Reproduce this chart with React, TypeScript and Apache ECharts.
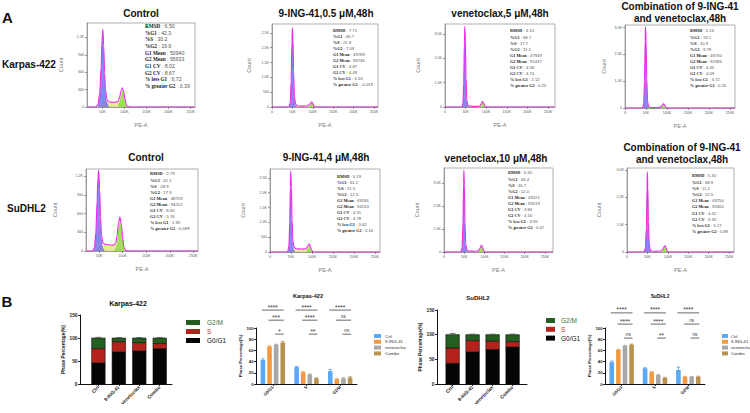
import React, { useEffect, useRef } from 'react';
import * as echarts from 'echarts';

type Pt = [number, number];

// ---------- Panel A: PE-A DNA content histograms ----------
const histTitles: string[][] = [
  ['Control'],
  ['9-ING-41,0.5 μM,48h'],
  ['venetoclax,5 μM,48h'],
  ['Combination of 9-ING-41', 'and venetoclax,48h'],
  ['Control'],
  ['9-ING-41,4 μM,48h'],
  ['venetoclax,10 μM,48h'],
  ['Combination of 9-ING-41', 'and venetoclax,48h'],
];
const rowLabels = ['Karpas-422', 'SuDHL2'];

const statNames = ['RMSD', '%G1', '%S', '%G2', 'G1 Mean', 'G2 Mean', 'G1 CV', 'G2 CV', '% less G1', '% greater G2'];
const statsKarpasCtrl = ['6.50', '42.3', '30.2', '19.9', '50940', '95633', '8.02', '8.67', '6.72', '0.39'];
const statsKarpasIng = ['7.71', '65.7', '21.9', '7.09', '49789', '96746', '4.87', '4.49', '5.53', '-0.019'];
const statsKarpasVen = ['4.15', '68.7', '17.7', '11.1', '47949', '91437', '4.59', '4.74', '2.12', '0.25'];
const statsKarpasCombo = ['5.16', '74.1', '10.9', '9.79', '48730', '92385', '4.45', '4.09', '3.72', '0.26'];
const statsSudCtrl = ['2.79', '41.1', '28.9', '27.9', '48759', '94212', '8.65', '5.76', '1.95', '0.089'];
const statsSudIng = ['5.19', '61.2', '21.5', '12.3', '49246', '94153', '4.31', '4.78', '3.62', '0.16'];
const statsSudVen = ['5.30', '66.4', '16.7', '12.0', '49221', '93219', '3.84', '4.16', '3.55', '0.47'];
const statsSudCombo = ['5.30', '68.9', '11.2', '12.5', '49754', '92660', '4.42', '5.33', '5.17', '0.89'];

// PE-A in thousands, counts
const kCtrlTotal: Pt[] = [[15, 0], [35, 0], [40, 40], [44, 250], [47, 700], [49, 1150], [51, 1340], [53, 1050], [55, 600], [57, 300], [60, 130], [64, 90], [70, 80], [80, 82], [86, 100], [89, 170], [92, 280], [95, 330], [98, 270], [101, 140], [104, 40], [108, 5], [115, 0], [260, 0]];
const kCtrlG1: Pt[] = [[40, 0], [44, 220], [47, 660], [49, 1100], [51, 1290], [53, 1000], [55, 560], [57, 260], [60, 90], [64, 15], [67, 0]];
const kCtrlS: Pt[] = [[48, 0], [52, 60], [58, 80], [70, 78], [80, 80], [88, 80], [94, 70], [100, 40], [104, 0]];
const kCtrlG2: Pt[] = [[85, 0], [89, 100], [92, 220], [95, 300], [98, 240], [101, 110], [104, 20], [107, 0]];

const kIngTotal: Pt[] = [[0, 0], [42, 0], [45, 150], [47, 900], [49, 2200], [50, 2670], [51.5, 2300], [53, 1200], [55, 350], [58, 90], [62, 40], [75, 30], [88, 40], [93, 100], [96, 160], [98, 170], [100, 120], [103, 30], [107, 0], [260, 0]];
const kIngG1: Pt[] = [[43, 0], [45, 130], [47, 850], [49, 2100], [50, 2550], [51.5, 2200], [53, 1100], [55, 300], [58, 40], [61, 0]];
const kIngS: Pt[] = [[50, 0], [54, 25], [60, 30], [75, 28], [90, 30], [98, 20], [103, 0]];
const kIngG2: Pt[] = [[90, 0], [93, 60], [96, 140], [98, 155], [100, 110], [103, 25], [106, 0]];

const kVenTotal: Pt[] = [[0, 0], [41.5, 0], [43.5, 150], [45.5, 1000], [47, 2600], [48, 3300], [49.5, 2700], [51, 1200], [53, 300], [55.5, 70], [62, 30], [75, 25], [84, 40], [88, 130], [90.5, 230], [92, 240], [94, 160], [97, 40], [101, 0], [265, 0]];
const kVenG1: Pt[] = [[41.5, 0], [43.5, 130], [45.5, 950], [47, 2500], [48, 3200], [49.5, 2600], [51, 1100], [53, 250], [55.5, 40], [58, 0]];
const kVenS: Pt[] = [[48.5, 0], [52.5, 25], [60, 28], [75, 25], [86, 28], [93, 20], [98, 0]];
const kVenG2: Pt[] = [[84, 0], [88, 90], [90.5, 200], [92, 220], [94, 150], [97, 35], [100, 0]];

const kComboTotal: Pt[] = [[0, 0], [42, 0], [44.5, 150], [46.5, 1000], [48, 2500], [48.8, 3030], [50.2, 2500], [51.8, 1100], [53.8, 250], [56.5, 50], [63, 15], [75, 12], [84, 25], [88, 90], [90.5, 150], [92.5, 160], [94.5, 110], [97.5, 30], [101, 0], [262, 0]];
const kComboG1: Pt[] = [[42.5, 0], [44.5, 130], [46.5, 950], [48, 2400], [48.8, 2920], [50.2, 2400], [51.8, 1000], [53.8, 200], [56.5, 20], [58.5, 0]];
const kComboS: Pt[] = [[49.5, 0], [53.5, 12], [62, 14], [75, 12], [86, 14], [93, 10], [98, 0]];
const kComboG2: Pt[] = [[85, 0], [88, 70], [90.5, 135], [92.5, 145], [94.5, 100], [97.5, 25], [100.5, 0]];

const sCtrlTotal: Pt[] = [[22, 0], [36, 0], [40, 60], [43, 300], [45.5, 800], [47.5, 1200], [49, 1300], [51, 1000], [53, 550], [55, 250], [58, 130], [62, 110], [70, 100], [80, 95], [85, 120], [88, 250], [91, 450], [94, 550], [97, 430], [100, 200], [103, 50], [107, 5], [115, 0], [260, 0]];
const sCtrlG1: Pt[] = [[38, 0], [40, 50], [43, 280], [45.5, 760], [47.5, 1150], [49, 1240], [51, 940], [53, 500], [55, 200], [58, 50], [62, 0]];
const sCtrlS: Pt[] = [[46, 0], [50, 70], [56, 95], [65, 100], [75, 95], [85, 100], [92, 80], [98, 40], [103, 0]];
const sCtrlG2: Pt[] = [[83, 0], [86, 60], [88, 180], [91, 390], [94, 500], [97, 400], [100, 180], [103, 40], [106, 0]];

const sIngTotal: Pt[] = [[0, 0], [42, 0], [45, 200], [47, 1000], [48.5, 2200], [49.5, 2740], [51, 2200], [52.5, 1100], [54.5, 400], [57, 160], [62, 110], [75, 100], [86, 110], [89, 170], [92, 250], [94, 270], [96, 200], [99, 60], [103, 0], [262, 0]];
const sIngG1: Pt[] = [[43, 0], [45, 180], [47, 950], [48.5, 2100], [49.5, 2620], [51, 2100], [52.5, 1000], [54.5, 300], [57, 60], [60, 0]];
const sIngS: Pt[] = [[49, 0], [53, 70], [60, 95], [75, 95], [88, 95], [95, 60], [100, 0]];
const sIngG2: Pt[] = [[86, 0], [89, 100], [92, 200], [94, 230], [96, 170], [99, 50], [102, 0]];

const sVenTotal: Pt[] = [[0, 0], [42, 0], [45, 200], [47, 1300], [48.5, 3000], [49.3, 3560], [50.5, 2900], [52, 1300], [54, 350], [57, 80], [62, 40], [75, 35], [85, 50], [89, 160], [91.5, 270], [93.5, 290], [95.5, 200], [98, 60], [102, 0], [270, 0]];
const sVenG1: Pt[] = [[43, 0], [45, 180], [47, 1250], [48.5, 2900], [49.3, 3450], [50.5, 2800], [52, 1200], [54, 280], [57, 30], [59, 0]];
const sVenS: Pt[] = [[50, 0], [54, 30], [62, 35], [75, 33], [86, 36], [94, 25], [99, 0]];
const sVenG2: Pt[] = [[85, 0], [88.5, 100], [91.5, 230], [93.5, 260], [95.5, 180], [98, 45], [101, 0]];

const sComboTotal: Pt[] = [[0, 0], [42, 0], [45, 150], [47.5, 900], [49, 2300], [49.8, 2930], [51, 2400], [52.5, 1100], [54.5, 300], [57, 60], [62, 30], [75, 30], [85, 45], [89, 140], [91.5, 210], [93.5, 230], [95.5, 160], [98, 45], [102, 0], [262, 0]];
const sComboG1: Pt[] = [[43, 0], [45, 130], [47.5, 850], [49, 2200], [49.8, 2820], [51, 2300], [52.5, 1000], [54.5, 240], [57, 25], [59, 0]];
const sComboS: Pt[] = [[50, 0], [54, 25], [62, 30], [75, 28], [86, 32], [94, 22], [99, 0]];
const sComboG2: Pt[] = [[86, 0], [89, 100], [91.5, 180], [93.5, 205], [95.5, 140], [98, 35], [101, 0]];

const histData = [
  { total: kCtrlTotal, g1: kCtrlG1, s: kCtrlS, g2: kCtrlG2, stats: statsKarpasCtrl },
  { total: kIngTotal, g1: kIngG1, s: kIngS, g2: kIngG2, stats: statsKarpasIng },
  { total: kVenTotal, g1: kVenG1, s: kVenS, g2: kVenG2, stats: statsKarpasVen },
  { total: kComboTotal, g1: kComboG1, s: kComboS, g2: kComboG2, stats: statsKarpasCombo },
  { total: sCtrlTotal, g1: sCtrlG1, s: sCtrlS, g2: sCtrlG2, stats: statsSudCtrl },
  { total: sIngTotal, g1: sIngG1, s: sIngS, g2: sIngG2, stats: statsSudIng },
  { total: sVenTotal, g1: sVenG1, s: sVenS, g2: sVenG2, stats: statsSudVen },
  { total: sComboTotal, g1: sComboG1, s: sComboS, g2: sComboG2, stats: statsSudCombo },
];

// ---------- Panel B: phase percentages ----------
const conditions = ['Ctrl', '9-ING-41', 'venetoclax', 'Combo'];
const phases = ['G0/G1', 'S', 'G2/M'];

// stacked bars (per condition)
const karpasStackG1 = [46, 70, 72, 77];
const karpasStackS = [31, 22, 18, 11];
const karpasStackG2M = [23, 8, 10, 12];
const karpasStackErr = [1.5, 1, 1, 1.2];
const sudStackG1 = [42, 65, 70, 75];
const sudStackS = [31, 23, 17, 11];
const sudStackG2M = [27, 12, 13, 14];
const sudStackErr = [2.5, 1.2, 1, 1.2];

// grouped bars (per phase)
const karpasCtrl = [43, 30, 23];
const karpasIng = [67, 21, 8.4];
const karpasVen = [70, 17, 10];
const karpasCombo = [74, 10, 11.4];
const karpasErr = [[2, 1.2, 3], [1.2, 1, 1.2], [1, 1, 1.2], [2, 1, 1.5]];
const karpasSig = [['****', '***', '*'], ['****', '****', '**'], ['****', 'ns', 'ns']];

const sudCtrl = [39, 28, 25];
const sudIng = [61, 21, 12.6];
const sudVen = [68, 16, 12.6];
const sudCombo = [70, 11, 13];
const sudErr = [[2, 1, 5], [1, 1, 1], [1, 1, 1], [1.2, 1, 1]];
const sudSig = [['****', '****', 'ns'], ['****', '****', '**'], ['****', 'ns', 'ns']];

// ---------- styling & layout ----------
const FONT = 'Liberation Sans';
const C_TOTAL = '#ea2aea';
const C_G1 = 'rgba(120,112,235,0.85)';
const C_S = 'rgba(226,232,140,0.9)';
const C_G2 = 'rgba(150,222,70,0.9)';
const STACK_COLORS = { g1: '#050505', s: '#b3231c', g2m: '#255e21' };
const GROUP_COLORS = ['#5aa8f6', '#f39a40', '#a8a8a8', '#b8924f'];
const GROUP_ERR_COLORS = ['#3d86d6', '#d97d22', '#8a8a8a', '#967236'];

const HIST_BOX = [
  { left: 87, top: 23, width: 108, height: 84, xMin: 15, xMax: 260, yMax: 1450, yStep: 300, countGap: 23, titleX: 141, titleY: [13.5], statX: 145, statY: 26, statLH: 6.65, statFont: 5.2 },
  { left: 272, top: 24, width: 106, height: 83, xMin: 0, xMax: 260, yMax: 2800, yStep: 500, countGap: 20, titleX: 326, titleY: [13.5], statX: 333, statY: 30, statLH: 6, statFont: 4.2 },
  { left: 445, top: 24, width: 110, height: 83, xMin: 0, xMax: 267, yMax: 3400, yStep: 1000, countGap: 24, titleX: 500, titleY: [13.5], statX: 510, statY: 31, statLH: 6.1, statFont: 4.2 },
  { left: 625, top: 25, width: 110, height: 83, xMin: 0, xMax: 262, yMax: 3100, yStep: 1000, countGap: 18, titleX: 680, titleY: [6, 18], statX: 690, statY: 31, statLH: 6.1, statFont: 4.2 },
  { left: 86, top: 169, width: 112, height: 82, xMin: 22, xMax: 260, yMax: 1320, yStep: 300, countGap: 28, titleX: 146, titleY: [157], statX: 150, statY: 174, statLH: 6.1, statFont: 4.3 },
  { left: 270, top: 169, width: 110, height: 83, xMin: 0, xMax: 262, yMax: 2800, yStep: 500, countGap: 24, titleX: 326, titleY: [157], statX: 337, statY: 176, statLH: 6, statFont: 4.2 },
  { left: 444, top: 168, width: 109, height: 84, xMin: 0, xMax: 270, yMax: 3650, yStep: 1000, countGap: 24, titleX: 496, titleY: [158], statX: 508, statY: 173, statLH: 6.1, statFont: 4.2 },
  { left: 627, top: 168, width: 107, height: 84, xMin: 0, xMax: 262, yMax: 3070, yStep: 1000, countGap: 25, titleX: 682, titleY: [147, 159], statX: 692, statY: 176, statLH: 6.2, statFont: 4.2 },
];

const BAR_W = 4.6;
const BAR_GAP = 2;
const STACK_BAR_W = 13.5;
const SIG_LEVELS_KARPAS = [132, 114, 89];
const SIG_LEVELS_SUD = [127, 107, 82];

const groupOffset = (k: number) => (k - 1.5) * (BAR_W + BAR_GAP);

function countFmt(v: number) {
  if (v === 0) return '0';
  return v >= 1000 ? (v / 1000).toFixed(1) + 'K' : String(v);
}

function buildOption() {
  const grid: any[] = [];
  const xAxis: any[] = [];
  const yAxis: any[] = [];
  const series: any[] = [];
  const graphic: any[] = [];
  const legend: any[] = [];

  const txt = (x: number, y: number, text: string, size: number, extra: any = {}) => ({
    type: 'text',
    x,
    y,
    silent: true,
    style: {
      text,
      fontSize: size,
      fontFamily: FONT,
      fill: '#111',
      align: 'center',
      verticalAlign: 'middle',
      textAlign: 'center',
      textVerticalAlign: 'middle',
      ...extra,
    },
  });

  graphic.push(txt(7.5, 17.5, 'A', 15, { fontWeight: 'bold' }));
  graphic.push(txt(7, 301, 'B', 15, { fontWeight: 'bold' }));
  graphic.push(txt(2, 64, rowLabels[0], 10, { fontWeight: 'bold', align: 'left', textAlign: 'left' }));
  graphic.push(txt(7, 208.5, rowLabels[1], 10, { fontWeight: 'bold', align: 'left', textAlign: 'left' }));

  // ----- histograms -----
  histData.forEach((h, i) => {
    const b = HIST_BOX[i];
    const xTicks = b.xMin === 0 ? [0, 50, 100, 150, 200, 250] : [50, 100, 150, 200, 250];
    grid.push({
      left: b.left, top: b.top, width: b.width, height: b.height,
      show: true, borderColor: '#9c9c9c', borderWidth: 0.8, containLabel: false, outerBoundsMode: 'none',
    });
    xAxis.push({
      type: 'value', gridIndex: i, min: b.xMin, max: b.xMax,
      name: 'PE-A', nameLocation: 'middle', nameGap: 15,
      nameTextStyle: { fontSize: 5.5, color: '#7a7a7a', fontFamily: FONT },
      axisLine: { show: true, onZero: false, lineStyle: { color: '#8a8a8a', width: 0.8 } },
      axisTick: { show: true, customValues: xTicks, length: 2, lineStyle: { color: '#555', width: 0.6 } },
      axisLabel: { customValues: xTicks, fontSize: 3.6, color: '#555', margin: 3, fontFamily: FONT, formatter: (v: number) => (v === 0 ? '0' : v + 'K') },
      splitLine: { show: false },
    });
    yAxis.push({
      type: 'value', gridIndex: i, min: 0, max: b.yMax, interval: b.yStep,
      name: 'Count', nameLocation: 'middle', nameGap: b.countGap,
      nameTextStyle: { fontSize: 5.5, color: '#7a7a7a', fontFamily: FONT },
      axisLine: { show: true, onZero: false, lineStyle: { color: '#8a8a8a', width: 0.8 } },
      axisTick: { show: true, length: 2, lineStyle: { color: '#555', width: 0.6 } },
      axisLabel: { fontSize: 3.6, color: '#555', margin: 3, showMaxLabel: false, fontFamily: FONT, formatter: countFmt },
      splitLine: { show: false },
    });
    const area = (data: Pt[], color: string) => ({
      type: 'line', xAxisIndex: i, yAxisIndex: i, data, symbol: 'none', smooth: 0.25, smoothMonotone: 'x',
      lineStyle: { width: 0 }, areaStyle: { color, opacity: 1 }, silent: true, z: 2,
    });
    series.push(area(h.s, C_S));
    series.push(area(h.g2, C_G2));
    series.push(area(h.g1, C_G1));
    series.push({
      type: 'line', xAxisIndex: i, yAxisIndex: i, data: h.total, symbol: 'none', smooth: 0.25, smoothMonotone: 'x',
      lineStyle: { width: 1.1, color: C_TOTAL }, silent: true, z: 3,
    });

    // titles
    histTitles[i].forEach((t, k) => graphic.push(txt(b.titleX, b.titleY[k], t, 10, { fontWeight: 'bold' })));

    // ModFit statistics block
    const lines = statNames.map((n, k) => `{l|${n}}{v| : ${h.stats[k]}}`).join('\n');
    graphic.push({
      type: 'text', x: b.statX, y: b.statY - b.statLH / 2, silent: true,
      style: {
        text: lines, align: 'left', verticalAlign: 'top', textAlign: 'left', textVerticalAlign: 'top',
        rich: {
          l: { fontFamily: 'Liberation Serif', fontWeight: 'bold', fontSize: b.statFont, lineHeight: b.statLH, fill: '#1a1a1a', color: '#1a1a1a' },
          v: { fontFamily: FONT, fontSize: b.statFont, lineHeight: b.statLH, fill: '#555', color: '#555' },
        },
      },
    });
  });

  // ----- bar charts -----
  const barAxisLabel = { fontSize: 4.8, color: '#1a1a1a', fontWeight: 'bold', fontFamily: FONT, margin: 2.5 };
  const axisLineBlack = { show: true, onZero: false, lineStyle: { color: '#111', width: 1 } };
  const tickBlack = { show: true, length: 2, lineStyle: { color: '#111', width: 0.9 } };

  const stacked = (gi: number, box: any, range: number[], yNameGap: number, g1: number[], s: number[], g2m: number[], err: number[]) => {
    grid.push({ ...box, containLabel: false, outerBoundsMode: 'none' });
    xAxis.push({
      type: 'value', gridIndex: gi, min: range[0], max: range[1],
      axisLine: axisLineBlack,
      axisTick: { ...tickBlack, customValues: [0, 1, 2, 3] },
      axisLabel: { ...barAxisLabel, customValues: [0, 1, 2, 3], rotate: 45, formatter: (v: number) => conditions[Math.round(v)] },
      splitLine: { show: false },
    });
    yAxis.push({
      type: 'value', gridIndex: gi, min: 0, max: 150, interval: 50,
      name: 'Phase Percentage(%)', nameLocation: 'middle', nameGap: yNameGap,
      nameTextStyle: { fontSize: 4.8, fontWeight: 'bold', color: '#1a1a1a', fontFamily: FONT },
      axisLine: axisLineBlack, axisTick: tickBlack, axisLabel: barAxisLabel, splitLine: { show: false },
    });
    // segments stacked on top of each other: [condition, bottom, top]
    const segs = (vals: number[], below: number[]) => vals.map((v, k) => [k, below[k], below[k] + v]);
    const zero = g1.map(() => 0);
    const sBase = g1;
    const g2Base = g1.map((v, k) => v + s[k]);
    const seg = (name: string, data: number[][], color: string) => ({
      type: 'custom', name, xAxisIndex: gi, yAxisIndex: gi, silent: true, z: 3,
      itemStyle: { color },
      data, encode: { x: 0, y: [1, 2] },
      renderItem: (_p: any, api: any) => {
        const lo = api.coord([api.value(0), api.value(1)]);
        const hi = api.coord([api.value(0), api.value(2)]);
        return {
          type: 'rect',
          shape: { x: lo[0] - STACK_BAR_W / 2, y: hi[1], width: STACK_BAR_W, height: lo[1] - hi[1] },
          style: { fill: color, stroke: '#111', lineWidth: 0.6 },
        };
      },
    });
    series.push(seg('G0/G1', segs(g1, zero), STACK_COLORS.g1));
    series.push(seg('S', segs(s, sBase), STACK_COLORS.s));
    series.push(seg('G2/M', segs(g2m, g2Base), STACK_COLORS.g2m));
    // error caps on top of each stack
    const tops = g1.map((v, k) => v + s[k] + g2m[k]);
    series.push({
      type: 'custom', xAxisIndex: gi, yAxisIndex: gi, silent: true, z: 5,
      data: tops.map((t, k) => [k, t, t + err[k]]),
      encode: { x: 0, y: [1, 2] },
      renderItem: (_p: any, api: any) => {
        const a = api.coord([api.value(0), api.value(1)]);
        const t = api.coord([api.value(0), api.value(2)]);
        const st = { stroke: '#555', lineWidth: 0.8 };
        return {
          type: 'group', children: [
            { type: 'line', shape: { x1: a[0], y1: a[1], x2: t[0], y2: t[1] }, style: st },
            { type: 'line', shape: { x1: t[0] - 3, y1: t[1], x2: t[0] + 3, y2: t[1] }, style: st },
          ],
        };
      },
    });
  };

  const grouped = (gi: number, box: any, yNameGap: number, vals: number[][], errs: number[][], sig: string[][], levels: number[]) => {
    grid.push({ ...box, containLabel: false, outerBoundsMode: 'none' });
    xAxis.push({
      type: 'category', gridIndex: gi, data: phases,
      axisLine: axisLineBlack,
      axisTick: { ...tickBlack, alignWithLabel: true },
      axisLabel: { ...barAxisLabel, fontSize: 4.2, rotate: 45, interval: 0 },
    });
    yAxis.push({
      type: 'value', gridIndex: gi, min: 0, max: 100, interval: 20,
      name: 'Phase Percentage(%)', nameLocation: 'middle', nameGap: yNameGap,
      nameTextStyle: { fontSize: 4.2, fontWeight: 'bold', color: '#1a1a1a', fontFamily: FONT },
      axisLine: axisLineBlack, axisTick: tickBlack, axisLabel: { ...barAxisLabel, fontSize: 4.2 }, splitLine: { show: false },
    });
    vals.forEach((v, k) => {
      series.push({
        type: 'bar', name: conditions[k], xAxisIndex: gi, yAxisIndex: gi, data: v,
        barWidth: BAR_W, barGap: `${(BAR_GAP / BAR_W) * 100}%`,
        itemStyle: { color: GROUP_COLORS[k] }, silent: true,
      });
    });
    // error bars
    const errItems: any[] = [];
    vals.forEach((v, k) => v.forEach((val, c) => errItems.push([c, val, val + errs[k][c], k])));
    series.push({
      type: 'custom', xAxisIndex: gi, yAxisIndex: gi, silent: true, z: 5,
      data: errItems, encode: { x: 0, y: [1, 2] },
      renderItem: (_p: any, api: any) => {
        const k = api.value(3);
        const a = api.coord([api.value(0), api.value(1)]);
        const t = api.coord([api.value(0), api.value(2)]);
        const x = a[0] + groupOffset(k);
        const st = { stroke: GROUP_ERR_COLORS[k], lineWidth: 0.7 };
        return {
          type: 'group', children: [
            { type: 'line', shape: { x1: x, y1: a[1], x2: x, y2: t[1] }, style: st },
            { type: 'line', shape: { x1: x - 1.6, y1: t[1], x2: x + 1.6, y2: t[1] }, style: st },
          ],
        };
      },
    });
    // significance brackets: row r compares condition r with Combo
    const sigItems: any[] = [];
    const sigLabels: string[] = [];
    sig.forEach((row, c) => row.forEach((lab, r) => { sigItems.push([c, levels[r], r]); sigLabels.push(lab); }));
    series.push({
      type: 'custom', xAxisIndex: gi, yAxisIndex: gi, silent: true, z: 6,
      data: sigItems, encode: { x: 0, y: 1 },
      renderItem: (p: any, api: any) => {
        const c = api.coord([api.value(0), api.value(1)]);
        const x1 = c[0] + groupOffset(api.value(2)) - 1;
        const x2 = c[0] + groupOffset(3) + 1;
        const lab = sigLabels[p.dataIndex];
        const isNs = lab === 'ns';
        return {
          type: 'group', children: [
            { type: 'line', shape: { x1, y1: c[1], x2, y2: c[1] }, style: { stroke: '#444', lineWidth: 0.8 } },
            {
              type: 'text', x: (x1 + x2) / 2, y: c[1] - (isNs ? 1 : -0.6),
              style: {
                text: lab, fontSize: isNs ? 4.6 : 6.5, fontFamily: FONT, fill: '#333',
                align: 'center', verticalAlign: 'bottom', textAlign: 'center', textVerticalAlign: 'bottom',
              },
            },
          ],
        };
      },
    });
  };

  stacked(8, { left: 80, top: 315, width: 92, height: 69 }, [-0.9, 3.6], 12, karpasStackG1, karpasStackS, karpasStackG2M, karpasStackErr);
  grouped(9, { left: 256, top: 328, width: 101, height: 56 }, 9, [karpasCtrl, karpasIng, karpasVen, karpasCombo], karpasErr, karpasSig, SIG_LEVELS_KARPAS);
  stacked(10, { left: 437, top: 310, width: 90, height: 74 }, [-0.78, 3.72], 14, sudStackG1, sudStackS, sudStackG2M, sudStackErr);
  grouped(11, { left: 605, top: 328, width: 100, height: 56 }, 10, [sudCtrl, sudIng, sudVen, sudCombo], sudErr, sudSig, SIG_LEVELS_SUD);

  graphic.push(txt(128, 303, 'Karpas-422', 7, { fontWeight: 'bold' }));
  graphic.push(txt(308, 296, 'Karpas-422', 5.6, { fontWeight: 'bold' }));
  graphic.push(txt(478, 298, 'SuDHL2', 6, { fontWeight: 'bold' }));
  graphic.push(txt(660, 296, 'SuDHL2', 4.8, { fontWeight: 'bold' }));

  const stackLegendData = [
    { name: 'G2/M', textStyle: { color: '#3d6b32' } },
    { name: 'S', textStyle: { color: '#c0392b' } },
    { name: 'G0/G1', textStyle: { color: '#111' } },
  ];
  legend.push({
    left: 181, top: 314, orient: 'vertical', icon: 'rect', itemWidth: 14, itemHeight: 5, itemGap: 2, selectedMode: false,
    data: stackLegendData, textStyle: { fontSize: 6.5, fontFamily: FONT, padding: [0, 0, 0, 2] },
  });
  legend.push({
    left: 541, top: 312, orient: 'vertical', icon: 'rect', itemWidth: 9, itemHeight: 5, itemGap: 1.8, selectedMode: false,
    data: stackLegendData, textStyle: { fontSize: 6.5, fontFamily: FONT, padding: [0, 0, 0, 1] },
  });
  legend.push({
    left: 369, top: 329, orient: 'vertical', icon: 'rect', itemWidth: 7, itemHeight: 4, itemGap: 1.8, itemStyle: { borderWidth: 0 }, selectedMode: false,
    data: conditions, textStyle: { fontSize: 4.4, fontFamily: FONT, color: '#333', padding: [0, 0, 0, -1] },
  });
  legend.push({
    left: 717, top: 329, orient: 'vertical', icon: 'rect', itemWidth: 6, itemHeight: 4, itemGap: 1.8, itemStyle: { borderWidth: 0 }, selectedMode: false,
    data: conditions, textStyle: { fontSize: 4.2, fontFamily: FONT, color: '#333', padding: [0, 0, 0, -2] },
  });

  return {
    animation: false,
    backgroundColor: '#ffffff',
    textStyle: { fontFamily: FONT },
    grid, xAxis, yAxis, series, legend, graphic,
  };
}

export default function App() {
  const ref = useRef<HTMLDivElement>(null);
  useEffect(() => {
    if (!ref.current) return;
    const chart = echarts.init(ref.current, null, { renderer: 'svg', width: 750, height: 413 });
    chart.setOption(buildOption() as any);
    return () => chart.dispose();
  }, []);
  return (
    <div
      ref={ref}
      style={{ position: 'fixed', left: 0, top: 0, width: 750, height: 413, background: '#fff' }}
    />
  );
}
